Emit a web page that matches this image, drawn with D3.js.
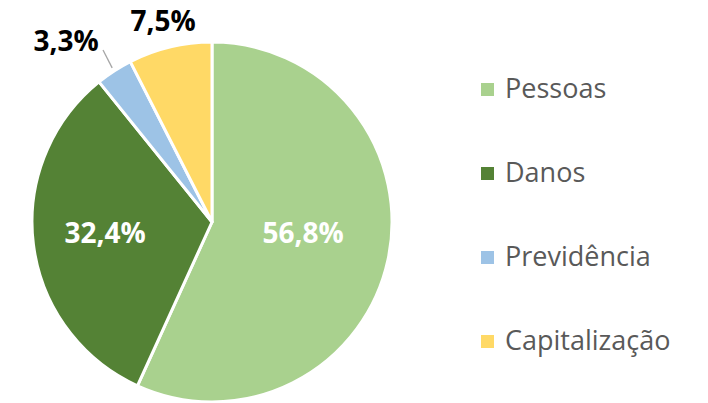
<!DOCTYPE html>
<html>
<head>
<meta charset="utf-8">
<script src="https://cdn.jsdelivr.net/npm/d3@7"></script>
<style>
  body { margin: 0; background: #fff; }
  svg { display: block; }
</style>
</head>
<body>
<svg id="chart"></svg>
<script>
const categories = ["Pessoas", "Danos", "Previdência", "Capitalização"];
const values = [56.8, 32.4, 3.3, 7.5];
const colors = ["#A9D18E", "#548235", "#9DC3E6", "#FFD966"];

function drawPie() {
  const width = 708;
  const height = 403;
  const cx = 212, cy = 222, radius = 180;

  const svg = d3.select("#chart")
    .attr("width", width)
    .attr("height", height);

  const data = categories.map((c, i) => ({ name: c, value: values[i], color: colors[i] }));

  const pie = d3.pie().value(d => d.value).sort(null);
  const arc = d3.arc().innerRadius(0).outerRadius(radius);
  const arcs = pie(data);

  const g = svg.append("g").attr("transform", `translate(${cx},${cy})`);

  g.selectAll("path")
    .data(arcs)
    .enter()
    .append("path")
    .attr("d", arc)
    .attr("fill", d => d.data.color)
    .attr("stroke", "#fff")
    .attr("stroke-width", 3)
    .attr("stroke-linejoin", "round");

  const fmt = v => d3.format(".1f")(v).replace(".", ",") + "%";

  // labels: big slices inside (white), small ones outside (black)
  const inside = d3.arc().innerRadius(radius * 0.52).outerRadius(radius * 0.52);
  const outside = d3.arc().innerRadius(radius * 1.14).outerRadius(radius * 1.14);

  arcs.forEach((d, i) => {
    const big = d.data.value > 20;
    let [x, y] = big ? inside.centroid(d) : outside.centroid(d);
    if (i === 2) {
      // Previdência label pulled out with a leader line
      const edge = d3.arc().innerRadius(radius * 1.02).outerRadius(radius * 1.02).centroid(d);
      x = -146; y = -180;
      g.append("line")
        .attr("x1", edge[0]).attr("y1", edge[1])
        .attr("x2", -109).attr("y2", -172)
        .attr("stroke", "#A6A6A6")
        .attr("stroke-width", 1.3);
    }
    if (i === 3) { x = -49; y = -200; }
    if (i === 0) { x = 91; }
    if (i === 1) { x = -107; }
    g.append("text")
      .attr("x", x)
      .attr("y", big ? 21 : y + 9)
      .attr("text-anchor", "middle")
      .style("font-family", "'Open Sans', sans-serif")
      .style("font-weight", "bold")
      .style("font-size", "28px")
      .attr("fill", big ? "#fff" : "#000")
      .text(fmt(d.data.value));
  });

  // legend
  const legend = svg.append("g").attr("transform", "translate(481, 83)");
  data.forEach((d, i) => {
    const row = legend.append("g").attr("transform", `translate(0, ${i * 84})`);
    row.append("rect")
      .attr("width", 13).attr("height", 13)
      .attr("fill", d.color);
    row.append("text")
      .attr("x", 24).attr("y", 15)
      .style("font-family", "'Open Sans', sans-serif")
      .style("font-size", "27px")
      .attr("fill", "#595959")
      .text(d.name);
  });
}

drawPie();
</script>
</body>
</html>
